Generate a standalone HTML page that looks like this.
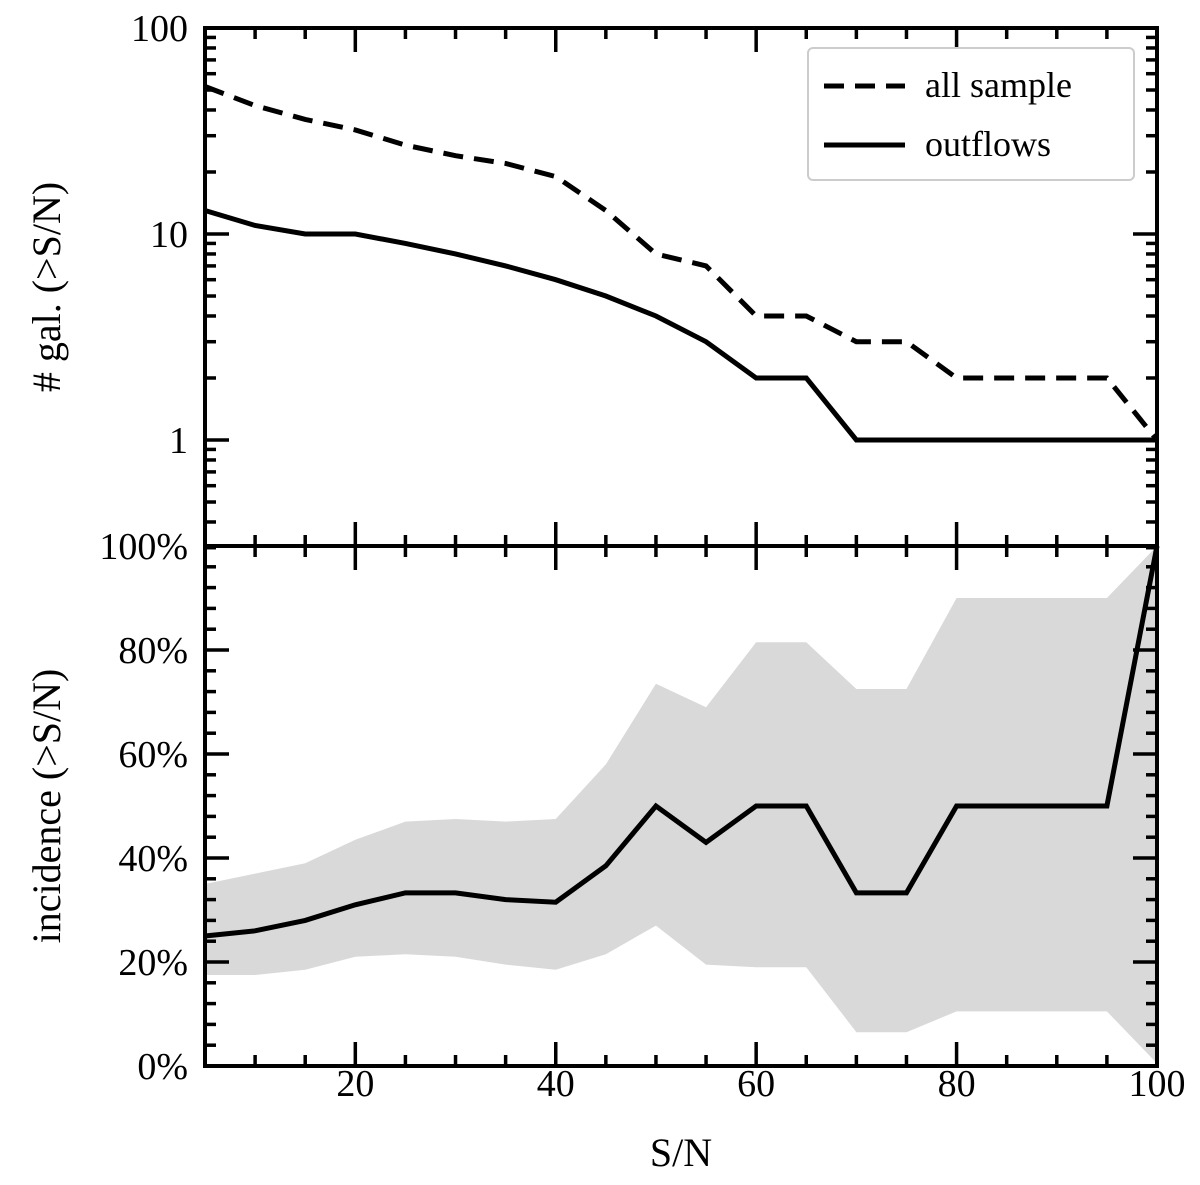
<!DOCTYPE html>
<html><head><meta charset="utf-8"><style>
body{margin:0;background:#fff}
svg text{font-family:"Liberation Serif",serif;fill:#000}
</style></head><body>
<svg id="chart" width="1200" height="1180" xmlns="http://www.w3.org/2000/svg">
<g id="band"></g><g id="lines"></g><g id="axes"></g>
</svg>
<script>
const sn = [5,10,15,20,25,30,35,40,45,50,55,60,65,70,75,80,85,90,95,100];
const allSample = [52,42,36,32,27,24,22,19,13,8,7,4,4,3,3,2,2,2,2,1];
const outflows = [13,11,10,10,9,8,7,6,5,4,3,2,2,1,1,1,1,1,1,1];
const incidence = [25,26,28,31,33.3,33.3,32,31.5,38.5,50,43,50,50,33.3,33.3,50,50,50,50,100];
const bandUpper = [35,37,39,43.5,47,47.5,47,47.5,58,73.5,69,81.5,81.5,72.5,72.5,90,90,90,90,100];
const bandLower = [17.5,17.5,18.5,21,21.5,21,19.5,18.5,21.5,27,19.5,19,19,6.5,6.5,10.5,10.5,10.5,10.5,0.5];
const xTicks = [20,40,60,80,100];
const logTicks = [1,10,100];
const pctTicks = [0,20,40,60,80,100];

const L=205,R=1157,T1=28,B1=546,B2=1066;
const X=v=>L+(v-5)*(R-L)/95;
const Y1=v=>440-Math.log10(v)*206;
const Y2=v=>B2-v*(B2-B1)/100;
const NS="http://www.w3.org/2000/svg";
function mk(p,tag,at){const e=document.createElementNS(NS,tag);for(const k in at)e.setAttribute(k,at[k]);p.appendChild(e);return e;}
const band=document.getElementById('band'),lines=document.getElementById('lines'),axes=document.getElementById('axes');

let pts=sn.map((s,i)=>X(s)+','+Y2(bandUpper[i])).concat(sn.slice().reverse().map((s,j)=>X(s)+','+Y2(bandLower[sn.length-1-j])));
const bp=mk(band,'polygon',{points:pts.join(' '),fill:'#d9d9d9'});



const l1=mk(lines,'polyline',{points:sn.map((s,i)=>X(s)+','+Y1(allSample[i])).join(' '),fill:'none',stroke:'#000','stroke-width':5,'stroke-dasharray':'20,11'});


const l2=mk(lines,'polyline',{points:sn.map((s,i)=>X(s)+','+Y1(outflows[i])).join(' '),fill:'none',stroke:'#000','stroke-width':5});


const l3=mk(lines,'polyline',{points:sn.map((s,i)=>X(s)+','+Y2(incidence[i])).join(' '),fill:'none',stroke:'#000','stroke-width':5});



const sw=4;
function tick(x1,y1,x2,y2){mk(axes,'line',{x1,y1,x2,y2,stroke:'#000','stroke-width':3.5});}
[T1,B1,B2].forEach(y=>{
  for(let v=5;v<=100;v+=5){const x=X(v);const len=(v%20==0)?24:11;
    if(y!==T1)tick(x,y,x,y-len);
    if(y!==B2)tick(x,y,x,y+len);}
});
for(let d=0.1;d<=10;d*=10){for(let m=1;m<10;m++){const v=d*m;if(v<0.3||v>100)continue;const y=Y1(v);const len=m==1?24:11;tick(L,y,L+len,y);tick(R,y,R-len,y);}}
tick(L,Y1(100),L+24,Y1(100));tick(R,Y1(100),R-24,Y1(100));
for(let v=0;v<=100;v+=4){const y=Y2(v);const len=v%20==0?24:11;tick(L,y,L+len,y);tick(R,y,R-len,y);}
mk(axes,'rect',{x:L,y:T1,width:R-L,height:B2-T1,fill:'none',stroke:'#000','stroke-width':sw});
mk(axes,'line',{x1:L,y1:B1,x2:R,y2:B1,stroke:'#000','stroke-width':sw});

xTicks.forEach(v=>{const t=mk(axes,'text',{x:X(v),y:1096,'text-anchor':'middle','font-size':38});t.textContent=v;

});
logTicks.forEach(v=>{const t=mk(axes,'text',{x:188,y:Y1(v)+13,'text-anchor':'end','font-size':38});t.textContent=v;

});
pctTicks.forEach(v=>{const t=mk(axes,'text',{x:188,y:Y2(v)+13,'text-anchor':'end','font-size':38});t.textContent=v+'%';

});
</script>
<svg width="1200" height="1180" style="position:absolute;left:0;top:0" xmlns="http://www.w3.org/2000/svg">
<text x="681" y="1166" text-anchor="middle" font-size="40">S/N</text>
<text transform="translate(60,287) rotate(-90)" text-anchor="middle" font-size="40"># gal. (&gt;S/N)</text>
<text transform="translate(60,806) rotate(-90)" text-anchor="middle" font-size="40">incidence (&gt;S/N)</text>
<g>
<rect x="808" y="48" width="326" height="132" rx="5" fill="#fff" stroke="#ccc" stroke-width="2"/>
<line x1="824" y1="86" x2="905" y2="86" stroke="#000" stroke-width="5" stroke-dasharray="20,11"/>
<text x="925" y="97" font-size="36">all sample</text>
<line x1="824" y1="145" x2="905" y2="145" stroke="#000" stroke-width="5"/>
<text x="925" y="156" font-size="36">outflows</text>
</g>
</svg>
</body></html>
